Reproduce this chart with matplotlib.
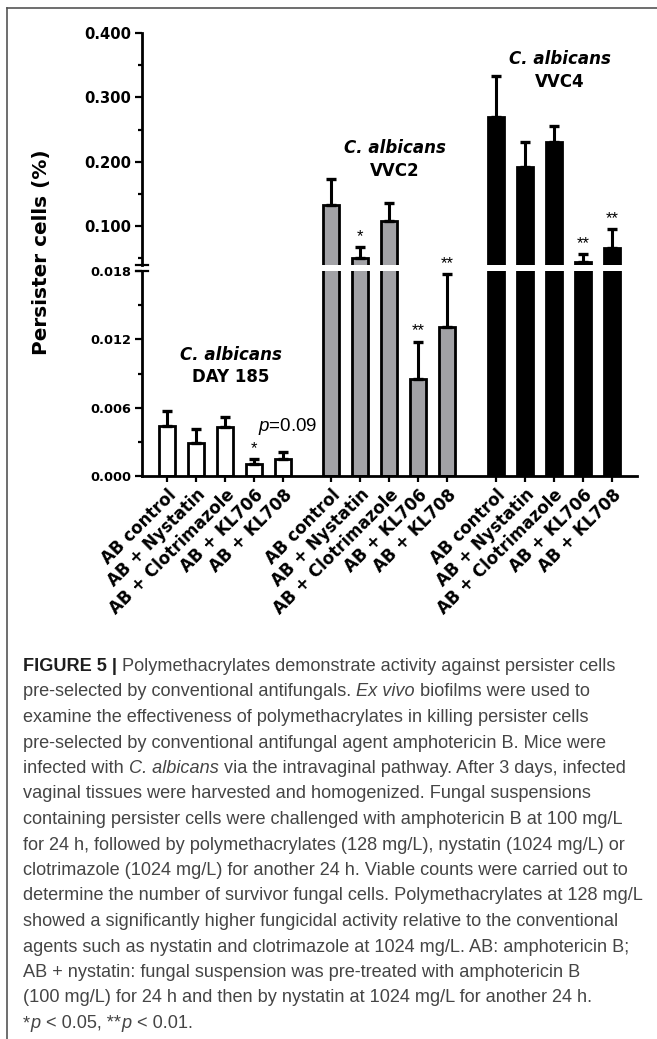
import matplotlib
matplotlib.use("Agg")
import numpy as np
import matplotlib.pyplot as plt

plt.rcParams["font.family"] = "DejaVu Sans"
plt.rcParams["mathtext.fontset"] = "custom"
plt.rcParams["mathtext.rm"] = "Liberation Sans"
plt.rcParams["mathtext.it"] = "Liberation Sans:italic"

# ── Data ───────────────────────────────────────────────────────────────────────
CONDITIONS = ["AB control", "AB + Nystatin", "AB + Clotrimazole", "AB + KL706", "AB + KL708"]
GROUPS     = ["DAY 185", "VVC2", "VVC4"]

day185_mean = [0.0044, 0.0029, 0.0043, 0.00105, 0.0015]
day185_sd   = [0.00135, 0.0012, 0.0009, 0.00042, 0.0006]
vvc2_mean   = [0.133, 0.050, 0.108, 0.0085, 0.0131]
vvc2_sd     = [0.040, 0.017, 0.028, 0.0033, 0.0046]
vvc4_mean   = [0.270, 0.192, 0.231, 0.044, 0.066]
vvc4_sd     = [0.063, 0.039, 0.025, 0.0125, 0.029]

day185_sig = ["", "", "", "*", "p"]
vvc2_sig   = ["", "*", "", "**", "**"]
vvc4_sig   = ["", "", "", "**", "**"]

GROUP_COLORS = ["white", "#a2a2a6", "black"]

# caption lines as segments: (text, style, space before); style b=bold, i=italic, n=normal
CAPTION = [
    [("FIGURE 5 |", "b", False), ("Polymethacrylates demonstrate activity against persister cells", "n", True)],
    [("pre-selected by conventional antifungals.", "n", False), ("Ex vivo", "i", True),
     ("biofilms were used to", "n", True)],
    [("examine the effectiveness of polymethacrylates in killing persister cells", "n", False)],
    [("pre-selected by conventional antifungal agent amphotericin B. Mice were", "n", False)],
    [("infected with", "n", False), ("C. albicans", "i", True),
     ("via the intravaginal pathway. After 3 days, infected", "n", True)],
    [("vaginal tissues were harvested and homogenized. Fungal suspensions", "n", False)],
    [("containing persister cells were challenged with amphotericin B at 100 mg/L", "n", False)],
    [("for 24 h, followed by polymethacrylates (128 mg/L), nystatin (1024 mg/L) or", "n", False)],
    [("clotrimazole (1024 mg/L) for another 24 h. Viable counts were carried out to", "n", False)],
    [("determine the number of survivor fungal cells. Polymethacrylates at 128 mg/L", "n", False)],
    [("showed a significantly higher fungicidal activity relative to the conventional", "n", False)],
    [("agents such as nystatin and clotrimazole at 1024 mg/L. AB: amphotericin B;", "n", False)],
    [("AB + nystatin: fungal suspension was pre-treated with amphotericin B", "n", False)],
    [("(100 mg/L) for 24 h and then by nystatin at 1024 mg/L for another 24 h.", "n", False)],
    [("*", "n", False), ("p", "i", False), ("< 0.05, **", "n", True), ("p", "i", False),
     ("< 0.01.", "n", True)],
]

# ── Layout helpers ─────────────────────────────────────────────────────────────
W, H = 657, 1039
GROUP_STEP = 5.67


def fx(px):
    return px / W


def fy(py):
    return 1 - py / H


means = np.array(day185_mean + vvc2_mean + vvc4_mean)
sds   = np.array(day185_sd + vvc2_sd + vvc4_sd)
sigs  = day185_sig + vvc2_sig + vvc4_sig
xpos  = np.concatenate([np.arange(5) + g * GROUP_STEP for g in range(3)])
cols  = [c for c in GROUP_COLORS for _ in range(5)]

fig = plt.figure(figsize=(W / 100, H / 100), dpi=100)
fig.patch.set_facecolor("white")

ax_top = fig.add_axes([fx(142), fy(264.6), fx(637) - fx(142), fy(33) - fy(264.6)])
ax_bot = fig.add_axes([fx(142), fy(476), fx(637) - fx(142), fy(271) - fy(476)])

for ax in (ax_top, ax_bot):
    ax.bar(xpos, means, width=0.55, color=cols, edgecolor="black", linewidth=2, zorder=2)
    ax.errorbar(xpos, means, yerr=[np.zeros_like(sds), sds], fmt="none", ecolor="black",
                elinewidth=2.2, capsize=3.6, capthick=2.4, zorder=3)
    ax.set_xlim(-0.862, 16.207)
    for s in ("top", "right"):
        ax.spines[s].set_visible(False)
    ax.spines["left"].set_linewidth(2)
    ax.tick_params(axis="y", which="major", length=5, width=1.6, pad=3)
    ax.tick_params(axis="y", which="minor", length=3, width=1.6)

ax_top.spines["bottom"].set_visible(False)
ax_top.set_xticks([])
ax_top.set_ylim(0.04, 0.4)
ax_top.set_yticks([0.1, 0.2, 0.3, 0.4])
ax_top.set_yticks([0.05, 0.15, 0.25, 0.35], minor=True)
ax_top.set_yticklabels([f"{v:.3f}" for v in [0.1, 0.2, 0.3, 0.4]], fontsize=10.6, weight="bold")

ax_bot.spines["bottom"].set_linewidth(2)
ax_bot.set_ylim(0, 0.018)
ax_bot.set_yticks([0, 0.006, 0.012, 0.018])
ax_bot.set_yticks([0.003, 0.009, 0.015], minor=True)
ax_bot.set_yticklabels([f"{v:.3f}" for v in [0, 0.006, 0.012, 0.018]], fontsize=9.3, weight="bold")
ax_bot.set_xticks(xpos)
ax_bot.set_xticklabels(CONDITIONS * 3, rotation=45, ha="right", va="top",
                       rotation_mode="anchor", fontsize=12, weight="bold")
ax_bot.tick_params(axis="x", length=4.5, width=1.6, pad=2.5)

# axis break marks
ax_top.plot([-0.012, 0.012], [0, 0], transform=ax_top.transAxes, color="black", lw=1.6, clip_on=False)
ax_bot.plot([-0.012, 0.012], [1, 1], transform=ax_bot.transAxes, color="black", lw=1.6, clip_on=False)

# significance marks
for xi, m, sd, sg in zip(xpos, means, sds, sigs):
    if not sg:
        continue
    top = m + sd
    ax = ax_bot if top < 0.018 else ax_top
    if sg == "p":
        ax.annotate(r"$p$=0.09", xy=(xi, top), xytext=(3.6, 18.7), textcoords="offset points",
                    ha="center", va="center", fontsize=13.5, family="Liberation Sans",
                    annotation_clip=False)
    else:
        ax.annotate(sg, xy=(xi, top), xytext=(0, 2.2), textcoords="offset points",
                    ha="center", va="bottom", fontsize=12, family="Liberation Sans",
                    annotation_clip=False)

# group labels
label_spots = [(ax_bot, 0.00966), (ax_top, 0.2033), (ax_top, 0.3417)]
for g, (name, (ax, yv)) in enumerate(zip(GROUPS, label_spots)):
    xc = 2 + g * GROUP_STEP + 0.2
    ax.annotate("C. albicans", xy=(xc, yv), xytext=(0, 1.5), textcoords="offset points",
                ha="center", va="bottom", fontsize=12, weight="bold", style="italic")
    ax.annotate(name, xy=(xc, yv), xytext=(0, -1.5), textcoords="offset points",
                ha="center", va="top", fontsize=12, weight="bold")

fig.text(fx(42), fy(252), "Persister cells (%)", rotation=90, ha="center", va="center",
         fontsize=14.4, weight="bold")

# ── Caption & frame ────────────────────────────────────────────────────────────
ax_cap = fig.add_axes([0, 0, 1, 1], facecolor="none")
ax_cap.set_xlim(0, 1)
ax_cap.set_ylim(0, 1)
ax_cap.axis("off")
ax_cap.plot([fx(7), 1], [fy(8), fy(8)], color="#555555", lw=1.2)
ax_cap.plot([fx(7), fx(7)], [fy(8), 0], color="#555555", lw=1.2)

CAP_SIZE = 13.1
SPACE_PT = 0.278 * CAP_SIZE
STYLE_KW = {
    "n": dict(color="#454545"),
    "i": dict(color="#454545", style="italic"),
    "b": dict(color="#1e1e1e", weight="bold"),
}
for i, segs in enumerate(CAPTION):
    prev = None
    for text, st, space in segs:
        kw = dict(family="Liberation Sans", fontsize=CAP_SIZE, ha="left", **STYLE_KW[st])
        if prev is None:
            prev = ax_cap.text(fx(23), fy(671 + 25.5 * i), text, va="baseline", **kw)
        else:
            prev = ax_cap.annotate(text, xy=(1, 0), xycoords=prev,
                                   xytext=(SPACE_PT if space else 0.4, 0),
                                   textcoords="offset points", va="bottom", **kw)

fig.savefig("out.png", dpi=100, facecolor="white")
